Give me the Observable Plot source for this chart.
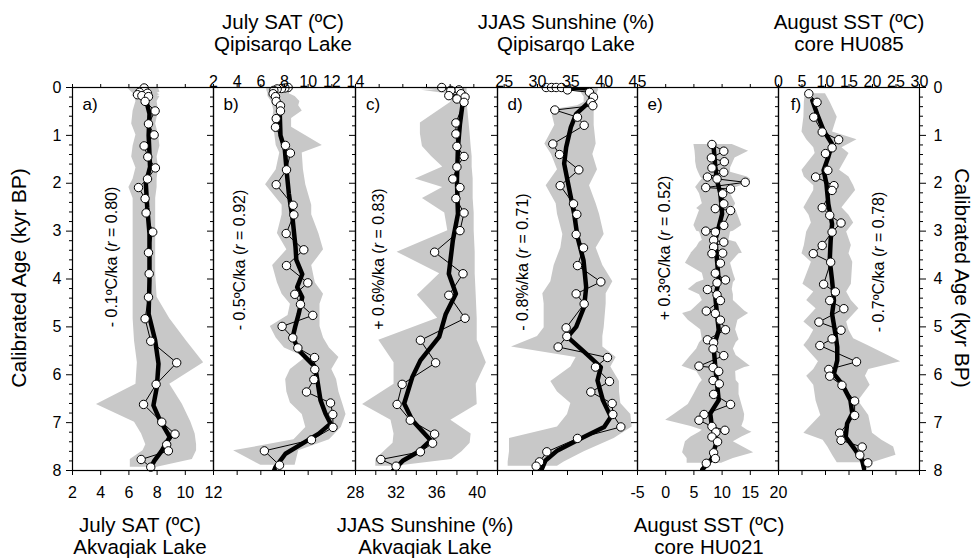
<!DOCTYPE html>
<html>
<head>
<meta charset="utf-8">
<script src="https://cdn.jsdelivr.net/npm/d3@7"></script>
<script src="https://cdn.jsdelivr.net/npm/@observablehq/plot@0.6"></script>
<style>
  body { margin: 0; background: #fff; }
  #chart { position: relative; width: 979px; height: 558px; overflow: hidden; background: #fff;
           font-family: "Liberation Sans", Arial, sans-serif; color: #000; }
  #chart svg { position: absolute; left: 0; top: 0; }
  .t { position: absolute; white-space: nowrap; line-height: 1; color: #000; }
</style>
</head>
<body>
<div id="chart"></div>
<script>
// ---------------- data ----------------
// Panel a: July SAT, Akvaqiak Lake
const ageA = [0.01,0.10,0.12,0.15,0.17,0.19,0.29,0.49,0.76,0.99,1.22,1.45,1.68,1.91,2.09,2.32,2.62,3.02,3.45,3.89,4.38,4.83,5.30,5.75,6.20,6.62,6.99,7.24,7.46,7.59,7.77,7.93];
const valA = [7.08,6.75,7.32,6.61,6.92,7.39,7.15,7.86,7.39,7.79,7.08,7.34,7.88,7.32,6.68,7.15,7.22,7.69,7.39,7.44,7.39,7.15,7.55,9.39,7.93,7.04,8.33,9.27,8.68,8.80,6.87,7.55];
const loA  = [5.9,6.2,6.3,6.3,6.2,6.4,6.5,6.3,6.2,6.5,6.3,6.2,6.5,6.3,6.0,6.3,6.3,6.3,6.3,6.3,6.3,6.3,6.4,6.6,6.5,3.7,6.4,6.9,7.2,7.0,6.1,6.1];
const hiA  = [8.1,8.2,8.0,8.2,8.0,8.2,8.0,8.1,7.9,8.1,8.2,8.0,8.1,8.0,8.0,7.9,7.9,7.9,7.9,7.9,8.0,8.9,10.1,11.3,8.9,9.8,10.4,10.7,10.8,10.8,10.5,8.0];
const smAgeA = [0.24,0.55,1.0,1.66,2.0,2.5,3.05,4.03,4.73,5.28,5.77,6.26,6.64,6.95,7.3,7.6,7.8,8.05];
const smValA = [7.2,7.46,7.4,7.5,7.2,7.3,7.46,7.46,7.4,7.86,8.1,7.98,7.74,8.2,8.9,8.3,7.8,7.35];

// Panel b: July SAT, Qipisarqo Lake
const ageB = [0.00,0.01,0.02,0.03,0.06,0.13,0.19,0.29,0.38,0.49,0.65,0.83,1.21,1.37,1.72,2.03,2.46,2.66,3.05,3.39,3.72,4.08,4.32,4.53,4.76,4.99,5.23,5.44,5.64,5.89,6.10,6.36,6.59,6.83,7.10,7.36,7.59,7.89];
const valB = [8.31,8.03,7.75,7.38,7.10,7.04,7.24,7.30,7.66,7.66,7.30,7.24,8.08,8.50,8.17,7.30,8.73,8.79,8.14,9.63,8.17,9.97,8.87,9.35,10.39,7.80,8.70,9.13,10.54,10.56,10.48,9.86,11.89,12.08,12.10,10.28,6.30,7.58];
const loB  = [6.5,6.5,6.5,6.5,6.5,6.6,6.6,6.9,7.0,7.1,7.0,7.1,7.3,7.6,7.3,6.4,7.8,7.8,7.4,8.2,7.0,7.4,7.8,8.5,8.3,6.8,7.3,8.0,9.8,8.5,8.1,8.2,8.5,9.5,9.8,8.8,3.7,6.0];
const hiB  = [8.5,8.5,8.5,8.5,8.5,8.4,8.9,9.3,9.2,9.5,8.6,8.6,11.2,9.5,9.6,9.8,10.3,10.3,10.9,11.3,10.3,10.6,11.3,11.0,11.0,11.0,11.3,11.8,12.6,12.0,12.4,12.6,12.9,13.2,12.8,11.8,9.2,8.9];
const smAgeB = [0.35,0.55,1.0,1.3,1.8,2.22,2.78,3.33,3.6,3.9,4.17,4.38,4.73,5.0,5.21,5.49,5.84,6.53,6.81,7.02,7.23,7.44,7.65,7.93,8.1];
const smValB = [7.5,7.6,7.66,8.03,8.2,8.37,8.7,8.93,9.0,9.5,9.07,9.5,9.2,8.9,8.7,9.2,10.6,11.04,11.46,11.89,10.9,9.5,8.08,7.24,6.96];

// Panel c: JJAS Sunshine, Akvaqiak Lake
const ageC = [0.00,0.05,0.06,0.13,0.17,0.20,0.24,0.31,0.74,0.97,1.23,1.44,1.66,1.91,2.09,2.32,2.62,2.99,3.44,3.89,4.34,4.82,5.28,5.75,6.20,6.62,6.95,7.24,7.43,7.61,7.77,7.91];
const valC = [36.5,38.2,37.4,38.4,37.2,38.8,38.0,38.7,37.9,37.9,38.0,38.7,38.0,37.6,38.3,37.9,38.7,38.3,35.8,38.6,37.2,38.8,34.4,35.9,32.6,32.1,33.4,35.8,35.6,34.4,30.5,32.0];
const loC  = [33.4,36.0,34.5,37.0,37.2,37.4,37.4,37.4,34.4,34.4,34.6,35.5,36.6,33.9,36.6,34.6,36.8,37.1,32.1,36.3,34.1,36.1,30.3,31.8,31.8,28.7,31.5,31.8,31.7,30.8,30.0,30.0];
const hiC  = [39.0,39.0,39.0,39.0,39.0,39.0,39.0,39.0,39.2,39.3,39.4,39.5,39.5,39.6,39.6,39.6,39.7,39.7,39.8,39.8,39.9,40.0,40.0,40.9,39.9,40.0,37.4,39.4,39.3,38.5,37.5,32.0];
const smAgeC = [0.27,0.76,1.25,1.94,2.64,3.19,3.89,4.31,4.73,5.21,5.7,6.05,6.6,6.95,7.37,7.61,7.79,8.05];
const smValC = [38.6,38.3,38.1,38.0,38.1,37.6,37.2,37.9,36.9,36.25,34.4,33.6,32.8,33.6,35.4,34.2,32.7,31.5];

// Panel d: JJAS Sunshine, Qipisarqo Lake
const ageD = [0.00,0.00,0.00,0.00,0.05,0.10,0.20,0.31,0.38,0.47,0.62,0.79,1.18,1.40,1.72,2.05,2.43,2.65,3.07,3.35,3.72,4.06,4.31,4.52,5.02,5.20,5.42,5.64,5.84,6.14,6.36,6.60,6.83,7.09,7.33,7.61,7.82,7.91];
const valD = [31.3,32.1,32.8,33.6,34.5,37.8,38.4,38.0,38.3,32.6,36.0,37.0,32.3,33.3,36.2,33.4,35.4,35.9,35.8,36.9,36.0,39.5,35.8,37.0,34.3,34.4,33.1,40.5,38.7,40.8,38.0,41.2,41.3,42.5,36.0,31.4,30.3,29.8];
const loD  = [29.5,29.5,29.5,29.5,34.0,36.5,37.0,37.0,36.0,32.0,32.3,32.6,31.1,32.1,33.0,31.3,32.8,33.0,33.8,33.5,32.5,32.0,30.8,31.0,31.0,30.0,26.1,35.8,35.0,32.0,33.0,35.0,34.5,33.0,25.8,25.8,25.6,25.6];
const hiD  = [39.0,39.0,39.0,39.0,39.2,39.0,39.0,38.8,38.8,38.5,38.5,38.5,38.8,38.3,39.0,37.8,38.8,39.3,40.0,38.8,39.8,41.3,40.3,40.3,40.0,39.8,39.8,41.8,41.0,42.3,42.3,42.5,44.0,44.2,41.5,37.0,34.0,33.0];
const smAgeD = [0.0,0.02,0.27,0.4,0.55,0.83,1.25,1.59,1.94,2.29,2.64,3.12,3.61,4.17,4.58,5.0,5.21,5.56,5.84,6.12,6.53,6.88,7.09,7.33,7.58,7.79,8.05];
const smValD = [34.5,37.8,38.0,37.0,35.8,35.0,34.3,34.0,34.5,35.0,35.5,36.0,36.9,37.3,37.0,35.8,34.5,37.3,39.5,39.0,39.8,41.0,40.0,36.5,33.0,31.2,30.4];

// Panel e: August SST, core HU021
const ageE = [1.19,1.33,1.47,1.55,1.68,1.77,1.87,1.91,1.98,2.09,2.12,2.22,2.43,2.53,2.57,2.88,3.00,3.02,3.19,3.23,3.33,3.46,3.47,3.67,3.88,4.02,4.08,4.22,4.33,4.45,4.67,4.72,4.86,5.06,5.27,5.33,5.46,5.60,5.82,5.85,5.93,6.12,6.19,6.41,6.62,6.83,6.95,7.08,7.16,7.20,7.30,7.40,7.63,7.75,7.85];
const valE = [8.2,10.3,8.1,10.4,8.2,10.3,7.4,9.1,14.1,7.1,11.5,10.1,10.3,8.8,11.5,10.3,7.1,8.8,8.5,10.3,8.5,10.1,8.2,9.7,8.8,10.6,9.1,7.4,9.1,9.7,7.2,8.8,9.7,10.6,7.4,8.5,8.4,10.3,5.9,8.4,9.4,8.4,9.5,8.5,11.5,6.8,5.9,8.2,10.5,8.9,8.2,9.2,8.5,8.8,7.2];
const loE  = [5.0,5.2,5.3,5.3,5.5,5.8,6.2,6.5,6.0,5.3,5.5,6.0,6.5,5.5,6.0,5.0,5.5,6.0,6.5,6.0,5.5,4.5,4.5,3.5,6.5,6.8,5.5,4.0,6.0,6.5,4.5,3.0,4.0,6.2,6.5,6.0,5.5,4.5,2.9,3.5,5.5,6.5,6.0,5.0,4.0,1.5,0.0,4.5,6.5,6.0,4.5,3.5,3.0,3.8,3.8];
const hiE  = [11.8,14.7,12.3,12.0,11.5,11.5,14.5,15.0,15.0,12.5,12.0,11.5,12.4,12.0,12.5,13.5,12.0,11.5,11.2,12.5,13.0,13.6,13.0,11.5,12.0,12.4,12.0,11.8,12.0,12.0,14.0,14.7,12.8,12.4,13.0,12.5,12.0,12.5,15.0,14.0,12.4,12.5,13.0,13.0,13.5,14.0,13.9,13.5,14.5,15.3,13.5,12.0,15.6,12.0,9.9];
const smAgeE = [1.25,1.66,1.94,2.22,2.64,2.92,3.19,3.61,4.03,4.38,4.73,5.07,5.42,5.84,6.19,6.53,6.81,7.09,7.37,7.61,7.75,7.98];
const smValE = [8.5,8.8,9.1,9.7,10.0,9.4,8.8,9.1,9.4,8.8,9.1,9.4,8.5,8.8,9.1,9.4,7.9,8.2,9.1,8.5,8.2,6.5];

// Panel f: August SST, core HU085
const ageF = [0.13,0.31,0.62,0.93,1.09,1.26,1.38,1.73,1.87,2.05,2.15,2.51,2.67,2.83,3.02,3.30,3.47,3.65,4.11,4.27,4.45,4.62,4.90,5.07,5.25,5.39,5.73,5.89,6.03,6.22,6.55,6.85,7.22,7.37,7.51,7.68,7.84];
const valF = [6.45,8.2,7.5,9.3,12.8,11.4,10.0,10.5,7.9,11.8,11.4,9.3,10.9,13.3,11.4,9.3,7.4,11.1,9.6,12.1,10.9,13.9,8.6,13.3,11.4,8.8,16.6,10.7,10.9,13.5,16.2,16.2,13.0,13.3,17.8,17.3,19.0];
const loF  = [5.7,5.5,5.4,5.0,6.0,7.5,7.8,5.0,5.5,7.5,7.5,5.4,6.5,7.0,6.0,5.5,5.0,7.0,5.2,7.5,6.0,8.0,5.4,7.5,6.5,5.4,8.5,7.5,6.0,7.5,8.0,9.0,5.4,9.5,10.5,11.5,12.5];
const hiF  = [10.0,11.0,12.5,11.5,16.7,13.5,15.0,13.0,15.0,16.0,16.4,13.5,15.0,16.0,14.5,15.5,15.0,15.8,15.5,14.5,15.5,17.1,14.5,15.0,16.0,19.0,26.0,19.2,18.5,19.5,17.0,19.2,20.0,22.0,24.5,25.0,20.0];
const smAgeF = [0.27,0.55,0.9,1.18,1.45,1.73,2.01,2.43,2.85,3.19,3.61,4.03,4.45,4.73,5.14,5.42,5.7,5.98,6.19,6.53,6.81,7.02,7.3,7.58,7.79,7.96];
const smValF = [7.2,8.2,9.6,11.4,10.6,9.6,10.2,10.6,11.4,11.1,10.9,11.4,11.8,11.4,12.1,12.5,12.5,11.8,13.5,15.3,15.7,14.6,14.3,16.4,17.8,18.2];

// ticks and labels
const yMajorTicks = [0,1,2,3,4,5,6,7,8];
const yMinorTicks = d3.range(0, 8.001, 0.2).filter(v => Math.abs(v - Math.round(v)) > 1e-6);
const ticksA = [2,4,6,8,10,12];
const ticksB = [2,4,6,8,10,12,14];
const ticksCBottom = [28,30,32,34,36,38,40,42];
const labelsCBottom = [28,32,36,40];
const ticksCTop = d3.range(0,7).map(k => 28 + k * 14 / 6);
const ticksDTop = [25,30,35,40,45];
const ticksDBottom = d3.range(0,5).map(k => 24 + k * 21 / 4);
const ticksE = [-5,0,5,10,15,20];
const ticksF = [0,5,10,15,20,25,30];

const topTitles = [
  {x: 283, l1: "July SAT (ºC)", l2: "Qipisarqo Lake"},
  {x: 566, l1: "JJAS Sunshine (%)", l2: "Qipisarqo Lake"},
  {x: 849, l1: "August SST (ºC)", l2: "core HU085"}
];
const bottomTitles = [
  {x: 140, l1: "July SAT (ºC)", l2: "Akvaqiak Lake"},
  {x: 425, l1: "JJAS Sunshine (%)", l2: "Akvaqiak Lake"},
  {x: 709, l1: "August SST (ºC)", l2: "core HU021"}
];
const panelLetters = ["a)","b)","c)","d)","e)","f)"];
const trendTexts = [
  {x: 112, y: 257, html: "- 0.1ºC/ka (<i>r</i> = 0.80)"},
  {x: 240, y: 260, html: "- 0.5ºC/ka (<i>r</i> = 0.92)"},
  {x: 379, y: 259, html: "+ 0.6%/ka (<i>r</i> = 0.83)"},
  {x: 523, y: 262, html: "- 0.8%/ka (<i>r</i> = 0.71)"},
  {x: 665, y: 248, html: "+ 0.3ºC/ka (<i>r</i> = 0.52)"},
  {x: 879, y: 262, html: "- 0.7ºC/ka (<i>r</i> = 0.78)"}
];
const yTitle = "Calibrated Age (kyr BP)";

// ---------------- drawing ----------------
const W = 979, H = 558, TOP = 87, BOT = 470;
const FONT = "'Liberation Sans', Arial, Helvetica, sans-serif";
const chart = document.getElementById("chart");
const fmtNone = () => "";
const fmt = d => String(d);

function panel(cfg) {
  const rows = cfg.age.map((a, i) => ({age: a, v: cfg.val[i], lo: cfg.lo[i], hi: cfg.hi[i]}));
  const sm = cfg.smAge.map((a, i) => ({age: a, v: cfg.smVal[i]}));
  const marks = [
    Plot.areaX(rows, {y: "age", x1: "lo", x2: "hi", fill: "#c8c8c8", clip: true}),
    Plot.line(rows, {x: "v", y: "age", stroke: "#000", strokeWidth: 1, clip: true}),
    Plot.line(sm, {x: "v", y: "age", stroke: "#000", strokeWidth: 4.5, strokeLinejoin: "round", clip: true}),
    Plot.dot(rows, {x: "v", y: "age", r: 4.2, fill: "#fff", stroke: "#000", strokeWidth: 1}),
    Plot.frame({stroke: "#000", strokeWidth: 1.2}),
    Plot.axisX({anchor: "top", ticks: cfg.topTicks, tickFormat: cfg.topFmt, tickSize: 4, tickPadding: -3, fontSize: 16, label: null}),
    Plot.axisX({anchor: "bottom", ticks: cfg.botTicks, tickFormat: cfg.botFmt, tickSize: 5, tickPadding: 11, fontSize: 16, label: null}),
    Plot.axisY({anchor: "left", ticks: yMajorTicks, tickSize: 6, tickPadding: 5, tickFormat: cfg.leftLabels ? fmt : fmtNone, fontSize: 16, label: null}),
    Plot.axisY({anchor: "left", ticks: yMinorTicks, tickSize: 3, tickFormat: fmtNone, label: null})
  ];
  if (cfg.right) {
    marks.push(Plot.axisY({anchor: "right", ticks: yMajorTicks, tickSize: 6, tickPadding: 8, tickFormat: fmt, fontSize: 16, label: null}));
    marks.push(Plot.axisY({anchor: "right", ticks: yMinorTicks, tickSize: 3, tickFormat: fmtNone, label: null}));
  }
  const svg = Plot.plot({
    width: W, height: H,
    marginLeft: cfg.L, marginRight: W - cfg.R, marginTop: TOP, marginBottom: H - BOT,
    x: {domain: cfg.domain},
    y: {domain: [0, 8], reverse: true},
    style: {background: "none", overflow: "visible", fontFamily: FONT, color: "#000"},
    marks
  });
  chart.appendChild(svg);
}

panel({L: 72, R: 213, domain: [2, 12], age: ageA, val: valA, lo: loA, hi: hiA, smAge: smAgeA, smVal: smValA,
  topTicks: ticksA, topFmt: fmtNone, botTicks: ticksA, botFmt: fmt, leftLabels: true});
panel({L: 213, R: 355, domain: [2, 14], age: ageB, val: valB, lo: loB, hi: hiB, smAge: smAgeB, smVal: smValB,
  topTicks: ticksB, topFmt: fmt, botTicks: ticksB, botFmt: fmtNone});
panel({L: 355, R: 497, domain: [28, 42], age: ageC, val: valC, lo: loC, hi: hiC, smAge: smAgeC, smVal: smValC,
  topTicks: ticksCTop, topFmt: fmtNone, botTicks: ticksCBottom, botFmt: d => labelsCBottom.includes(d) ? String(d) : ""});
panel({L: 497, R: 637, domain: [24, 45], age: ageD, val: valD, lo: loD, hi: hiD, smAge: smAgeD, smVal: smValD,
  topTicks: ticksDTop, topFmt: fmt, botTicks: ticksDBottom, botFmt: fmtNone});
panel({L: 637, R: 778, domain: [-5, 20], age: ageE, val: valE, lo: loE, hi: hiE, smAge: smAgeE, smVal: smValE,
  topTicks: ticksE, topFmt: fmtNone, botTicks: ticksE, botFmt: fmt});
panel({L: 778, R: 919, domain: [0, 30], age: ageF, val: valF, lo: loF, hi: hiF, smAge: smAgeF, smVal: smValF,
  topTicks: ticksF, topFmt: fmt, botTicks: ticksF, botFmt: fmtNone, right: true});

// ---------------- text overlays ----------------
function addText(html, x, y, size, transform) {
  const d = document.createElement("div");
  d.className = "t";
  d.innerHTML = html;
  d.style.left = x + "px";
  d.style.top = y + "px";
  d.style.fontSize = size + "px";
  d.style.transform = "translate(-50%,-50%)" + (transform || "");
  chart.appendChild(d);
}
topTitles.forEach(t => { addText(t.l1, t.x, 22, 20.5); addText(t.l2, t.x, 44, 20.5); });
bottomTitles.forEach(t => { addText(t.l1, t.x, 525, 20.5); addText(t.l2, t.x, 547, 20.5); });
const lefts = [72, 213, 355, 497, 637, 778];
panelLetters.forEach((p, i) => addText(p, lefts[i] + 18, 104, 17));
trendTexts.forEach(t => addText(t.html, t.x, t.y, 16, " rotate(-90deg)"));
addText(yTitle, 18, 278, 21, " rotate(-90deg)");
addText(yTitle, 962, 278, 21, " rotate(90deg)");
</script>
</body>
</html>
